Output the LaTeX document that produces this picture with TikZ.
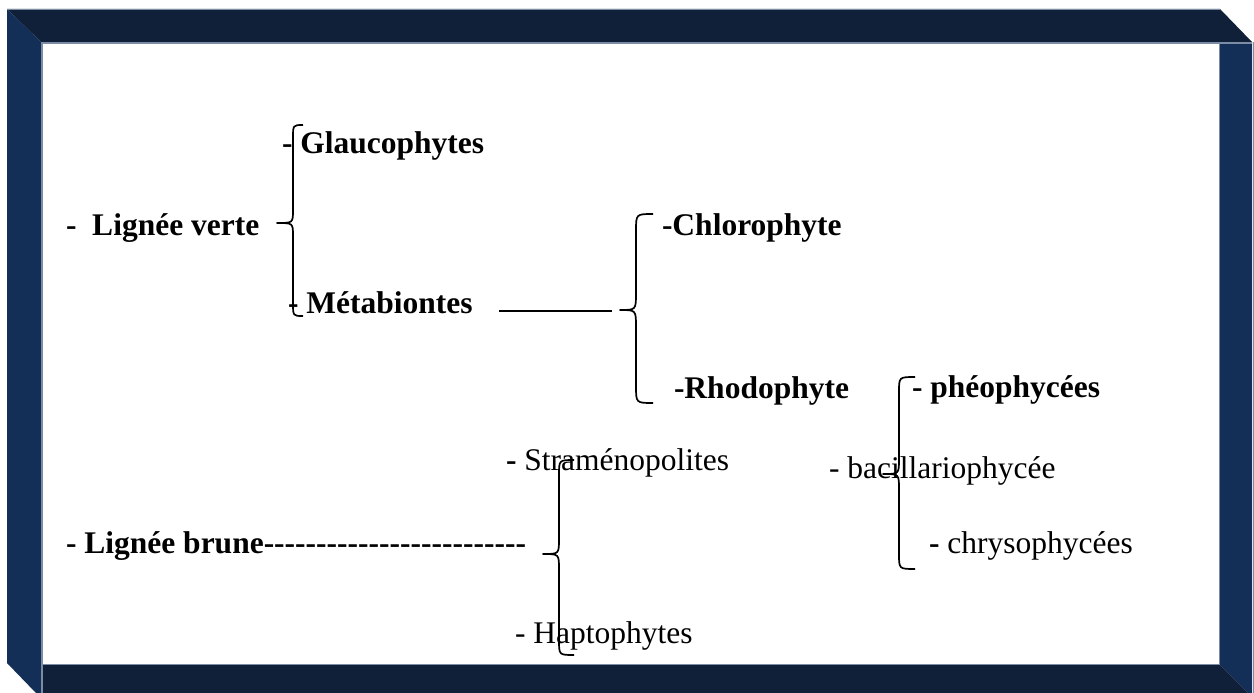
\documentclass[tikz,border=0pt]{standalone}
\usepackage{fontspec}
\setmainfont{Liberation Serif}
\definecolor{bandA}{RGB}{15,32,56}
\definecolor{bandB}{RGB}{20,47,87}
\definecolor{edgeC}{RGB}{125,140,165}
\newcommand\hyphs[1]{\foreach\i in {1,...,#1}{\mbox{-}}}
% #1 end x, #2 vertical x, #3 tip x, #4 top y, #5 tip y, #6 bottom y, #7 radius
\newcommand\curlybr[7]{%
  \draw[bracepath] (#1,#4) .. controls (#2,#4) .. (#2,#4+#7) -- (#2,#5-#7)
    .. controls (#2,#5) .. (#3,#5) .. controls (#2,#5) .. (#2,#5+#7)
    -- (#2,#6-#7) .. controls (#2,#6) .. (#1,#6);}
\begin{document}
\begin{tikzpicture}[x=1pt,y=-1pt,
  lbl/.style={anchor=base west,inner sep=0pt,outer sep=0pt,font=\fontsize{31.5}{36}\selectfont},
  bf/.style={lbl,font=\fontsize{31.5}{36}\selectfont\bfseries},
  bracepath/.style={line width=1.7pt,black,line join=round},
  conn/.style={line width=1.6pt,black},
  edge/.style={edgeC,line width=2pt}
]
\useasboundingbox (0,0) rectangle (1254,693);
\fill[white] (0,0) rectangle (1254,693);
% frame
\fill[bandA] (7,9) -- (1220,9) -- (1252,42) -- (41,42) -- cycle;
\fill[bandB] (7,9) -- (41,42) -- (41,693) -- (36,693) -- (7,663) -- cycle;
\fill[bandB] (1219,42) -- (1252,42) -- (1252,693) -- (1248,693) -- (1219,664) -- cycle;
\fill[bandA] (42,664) -- (1219,664) -- (1248,693) -- (42,693) -- cycle;
\draw[edge] (42,693) -- (42,43) -- (1252,43);
\draw[edgeC,line width=0.8pt] (1219,44) -- (1219,664) -- (43,664);
\draw[edgeC,line width=0.8pt] (7,9) -- (1220,9);
\draw[edgeC,line width=1pt] (1253,42) -- (1253,693);
% texts
\node[bf] (glau) at (282,153) {-~Glaucophytes};
\node[bf] (verte) at (66,235) {-~~Lignée verte};
\node[bf] (meta) at (288,313) {-~Métabiontes};
\node[bf] (chloro) at (662,235) {-Chlorophyte};
\node[bf] (rhodo) at (674,398) {-Rhodophyte};
\node[bf] (pheo) at (912,397) {-~phéophycées};
\node[lbl] (bacil) at (829,478) {-~bacillariophycée};
\node[lbl] (chryso) at (929,553) {\textbf{-}~chrysophycées};
\node[lbl] (stram) at (506,470) {\textbf{-}~Straménopolites};
\node[lbl] (hapto) at (515,643) {-~Haptophytes};
\node[bf] (brune) at (66,553) {-~Lignée brune\hyphs{25}};
% connector
\coordinate (l1) at (499,311);
\coordinate (l2) at (612,311);
\draw[conn] (l1) -- (l2);
% braces
\curlybr{303}{293}{277}{125}{223}{316}{13}
\curlybr{653}{636}{620}{214}{310}{403}{17}
\curlybr{574}{559}{543}{460}{554}{655}{15}
\curlybr{915}{899}{883}{377}{474}{569}{15}
\end{tikzpicture}
\end{document}
